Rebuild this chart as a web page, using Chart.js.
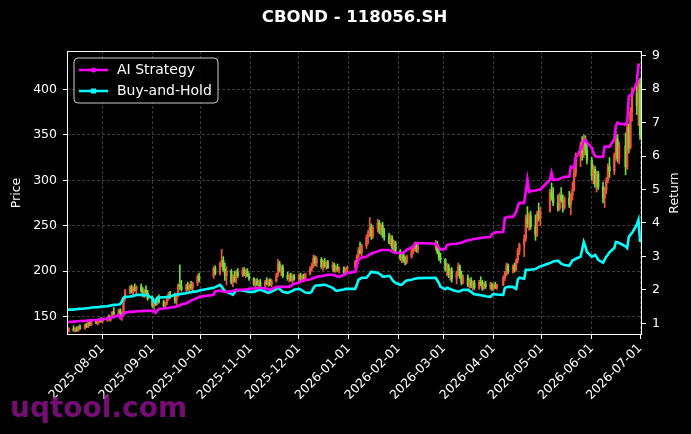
<!DOCTYPE html>
<html><head><meta charset="utf-8">
<script src="https://cdn.jsdelivr.net/npm/chart.js@4.4.0/dist/chart.umd.min.js"></script>
<style>html,body{margin:0;padding:0;background:#000;} #wrap{width:691px;height:434px;position:relative;}</style>
</head><body><div id="wrap"><canvas id="c" width="691" height="434"></canvas></div>
<script>
const chartTitle = 'CBOND - 118056.SH';
const firstDay = '2025-07-10', lastDay = '2026-07-01';
const holidays = ['2025-10-01','2025-10-02','2025-10-03','2025-10-06','2025-10-07','2025-10-08',
  '2026-01-01','2026-01-02','2026-02-16','2026-02-17','2026-02-18','2026-02-19','2026-02-20','2026-02-23',
  '2026-04-06','2026-05-01','2026-05-04','2026-05-05','2026-06-19'];
const tickLabels = ['2025-08-01','2025-09-01','2025-10-01','2025-11-01','2025-12-01','2026-01-01',
  '2026-02-01','2026-03-01','2026-04-01','2026-05-01','2026-06-01','2026-07-01'];
const priceTicks = [150,200,250,300,350,400];
const returnTicks = [1,2,3,4,5,6,7,8,9];

const opens = [
136,134, 137,135,136,135,139, 137,141,139,143,141, 145,143,145,147,145, 147,149,147,150,155,
153,157,150,152,170, 178,182,177,181,179, 183,178,174,179,176, 170,162,166,164,171, 166,162,165,170,175,
172,168,174,185,183, 180,184,181,185,182, 187,194, 195,203, 198,208,212,202,195, 200,188,194,190,199,
197,201,196,200,195, 192,186,189,185,188, 184,188,186,190,185, 189,196,208,201,204, 195,192,195,190,194,
191,195,192,194,191, 197,203,207,214,209, 213,205,210,206,209, 204,207,201,204,202, 203,199,202,
204,210,216,223,220, 228,237,242,248,239, 247,253,244,250,240, 238,232,236,226,231, 222,214,218,212,210,
216,222,226,228,224, 227,230,221,215, 213,202,206,196,200, 192,198,205,194,188, 193,185,190,184,187,
182,188,186,181,186, 183,185,181,184,182, 185,193,198,206, 200,205,202,212,222, 229,236,258,252,261,
249,240,263,258, 266,287,281, 275,269,283,278,270, 280,273,284,290,308, 326,338,330,345,333,
322,305,312,296,307, 293,280,289,300,315, 310,327,345,324, 338,315,358,336,375, 396,382,405];
const highs = [
139,138, 140,138,139,140,141, 142,143,144,145,146, 147,146,148,149,148, 150,152,151,156,160,
158,159,155,172,180, 184,185,183,186,184, 186,182,180,184,179, 173,168,170,172,174, 168,166,172,177,178,
176,175,186,207,190, 186,188,186,189,188, 196,198, 205,206, 210,224,216,209,205, 202,196,200,201,203,
204,204,202,203,198, 193,191,192,190,191, 190,193,191,192,191, 198,213,211,206,207, 199,197,198,196,197,
197,198,196,197,198, 205,209,218,217,216, 215,212,214,211,212, 210,209,206,208,205, 205,204,206,
212,218,226,232,230, 240,245,259,252,250, 257,256,252,254,247, 242,240,239,234,233, 224,220,221,216,218,
224,229,232,231,230, 234,233,226,220, 214,209,208,203,204, 200,209,207,200,196, 196,192,193,189,190,
190,194,190,188,189, 188,187,186,188,186, 195,200,209,208, 207,209,214,225,231, 240,262,271,264,266,
262,266,275,270, 290,297,292, 284,286,292,284,282, 288,286,298,312,330, 342,348,350,349,340,
325,317,315,310,310, 298,292,303,318,325, 330,353,350,342, 352,364,362,380,402, 416,410,412];
const lows = [
133,133, 134,133,134,134,136, 136,138,138,140,140, 142,141,143,144,143, 145,146,145,149,152,
150,149,146,151,168, 175,176,174,178,175, 177,172,171,175,168, 160,158,162,163,165, 160,160,163,168,170,
165,163,172,180,178, 176,179,177,180,178, 184,188, 192,196, 196,205,200,190,185, 186,183,188,187,193,
194,195,193,194,190, 184,182,184,183,183, 182,185,183,184,183, 188,194,199,195,193, 190,188,189,187,190,
188,190,189,190,189, 196,200,204,206,205, 203,201,204,202,203, 200,199,199,200,198, 197,196,199,
203,208,213,219,217, 225,230,238,235,236, 243,241,240,237,234, 230,228,224,222,220, 212,209,210,207,208,
214,219,222,221,220, 223,219,212,209, 200,195,193,190,188, 186,195,192,185,186, 183,181,182,179,180,
180,184,179,180,181, 180,179,179,181,180, 184,190,195,197, 198,199,200,209,218, 216,233,248,245,246,
234,238,255,250, 265,278,272, 266,267,276,265,268, 270,262,278,288,304, 315,322,325,328,318,
300,296,292,287,290, 275,270,285,297,303, 306,322,320,318, 306,312,330,334,365, 372,360,345];
const closes = [
134,137, 135,136,135,139,137, 141,139,143,141,145, 143,145,147,145,147, 149,147,150,155,153,
157,150,152,170,178, 182,177,181,179,183, 178,174,179,176,170, 162,166,164,171,166, 162,165,170,175,172,
168,174,185,183,180, 184,181,185,182,187, 194,190, 203,198, 208,212,202,195,200, 188,194,190,199,195,
201,196,200,195,192, 186,189,185,188,184, 188,186,190,185,189, 196,208,201,204,195, 192,195,190,194,191,
195,192,194,191,197, 203,207,214,209,213, 205,210,206,209,204, 207,201,204,202,203, 199,202,204,
210,216,223,220,228, 237,242,248,239,247, 253,244,250,240,238, 232,236,226,231,222, 214,218,212,210,216,
222,226,228,224,227, 230,221,215,213, 202,206,196,200,192, 198,205,194,188,193, 185,190,184,187,182,
188,186,181,186,183, 185,181,184,182,185, 193,198,206,200, 205,202,212,222,229, 236,258,252,261,249,
240,263,258,266, 287,281,275, 269,283,278,270,280, 273,284,290,308,326, 338,330,345,333,322,
305,312,296,307,293, 280,289,300,315,310, 327,345,324,338, 315,358,336,375,396, 382,405,350];
const aiReturn = [
1.04,1.04, 1.05,1.05,1.06,1.06,1.07, 1.07,1.08,1.08,1.09,1.09, 1.10,1.10,1.11,1.12,1.12, 1.14,1.15,1.17,1.18,1.19,
1.25,1.16,1.22,1.28,1.32, 1.34,1.34,1.35,1.35,1.36, 1.36,1.37,1.37,1.37,1.37, 1.37,1.35,1.31,1.38,1.43, 1.44,1.45,1.45,1.46,1.47,
1.49,1.50,1.52,1.54,1.56, 1.60,1.62,1.65,1.68,1.70, 1.76,1.79, 1.85,1.95, 1.98,1.96,1.95,1.94,1.94, 1.96,1.97,1.98,1.99,2.00,
2.00,2.01,2.01,2.02,2.03, 2.04,2.04,2.05,2.06,2.06, 2.04,2.03,2.01,2.00,2.02, 2.09,2.09,2.09,2.09,2.09, 2.09,2.09,2.12,2.15,2.18,
2.21,2.24,2.26,2.28,2.30, 2.31,2.33,2.35,2.37,2.39, 2.41,2.42,2.43,2.44,2.45, 2.45,2.44,2.42,2.40,2.39, 2.45,2.48,2.50,
2.54,2.70,2.90,2.93,2.97, 2.99,3.02,3.05,3.08,3.10, 3.15,3.17,3.19,3.19,3.19, 3.19,3.17,3.14,3.12,3.10, 3.10,3.10,3.12,3.15,3.20,
3.26,3.30,3.36,3.40,3.40, 3.38,3.34,3.27,3.20, 3.22,3.34,3.35,3.36,3.37, 3.38,3.39,3.40,3.41,3.43, 3.48,3.49,3.50,3.51,3.52,
3.54,3.55,3.56,3.56,3.57, 3.58,3.66,3.70,3.71,3.72, 3.73,4.15,4.16,4.18, 4.18,4.25,4.33,4.50,4.60, 4.60,4.93,5.29,4.93,4.95,
4.97,4.98,4.99,5.00, 5.29,5.50,5.29, 5.30,5.32,5.34,5.36,5.38, 5.38,5.68,5.66,5.65,5.95, 6.19,6.30,6.45,6.49,6.40,
6.25,6.10,6.00,5.98,5.98, 5.98,6.28,6.28,6.28,6.28, 6.50,6.90,7.00,6.97, 6.94,7.00,7.78,7.82,7.84, 8.19,8.73,8.73];
const bhReturn = [
1.40,1.41, 1.41,1.42,1.42,1.43,1.43, 1.44,1.45,1.45,1.46,1.47, 1.48,1.48,1.49,1.50,1.50, 1.51,1.52,1.53,1.54,1.55,
1.56,1.58,1.65,1.76,1.79, 1.80,1.81,1.82,1.83,1.85, 1.85,1.85,1.84,1.84,1.83, 1.75,1.65,1.61,1.76,1.77, 1.78,1.78,1.79,1.79,1.80,
1.85,1.86,1.86,1.87,1.88, 1.90,1.91,1.92,1.93,1.94, 1.96,1.98, 2.06,2.08, 2.15,2.10,2.02,1.96,1.94, 1.88,1.85,1.92,2.00,1.99,
1.98,1.97,1.96,1.95,1.94, 1.94,1.96,1.98,2.00,2.00, 1.95,1.93,1.91,1.93,1.95, 2.02,2.06,2.03,1.98,1.94, 1.91,1.93,1.95,1.97,2.00,
2.03,2.01,1.98,1.95,1.92, 1.91,1.95,2.05,2.12,2.13, 2.14,2.15,2.15,2.14,2.12, 2.06,2.02,1.98,1.97,1.99, 2.01,2.03,2.03,
2.03,2.15,2.30,2.33,2.36, 2.36,2.42,2.48,2.54,2.53, 2.51,2.48,2.45,2.40,2.39, 2.42,2.38,2.30,2.25,2.21, 2.15,2.16,2.20,2.25,2.28,
2.30,2.32,2.33,2.34,2.35, 2.36,2.28,2.20,2.09, 2.02,2.06,2.04,2.03,2.00, 1.96,1.95,1.96,1.98,2.00, 2.00,1.97,1.94,1.90,1.87,
1.85,1.84,1.83,1.82,1.81, 1.79,1.84,1.88,1.87,1.86, 1.85,2.06,2.08,2.09, 2.09,2.05,2.03,2.30,2.36, 2.33,2.60,2.60,2.60,2.60,
2.62,2.65,2.68,2.70, 2.80,2.82,2.85, 2.87,2.83,2.78,2.76,2.74, 2.72,2.80,2.88,2.90,2.93, 2.99,3.20,3.43,3.30,3.13,
2.99,3.01,3.04,2.98,2.90, 2.81,2.90,2.99,3.05,3.12, 3.25,3.43,3.42,3.40, 3.30,3.25,3.58,3.65,3.70, 3.95,4.09,3.43];

function dayNum(s){const [y,m,d]=s.split('-').map(Number);return Date.UTC(y,m-1,d)/86400000;}
function dayStr(n){return new Date(n*86400000).toISOString().slice(0,10);}
const tradingDays = [];
for (let n = dayNum(firstDay); n <= dayNum(lastDay); n++) {
  const wd = new Date(n*86400000).getUTCDay();
  if (wd === 0 || wd === 6) continue;
  if (holidays.includes(dayStr(n))) continue;
  tradingDays.push(n);
}
const N = Math.min(tradingDays.length, opens.length);
const UP = '#f0553a', DOWN = '#70e03a';
const candleColors = [];
const wickData = [], bodyData = [], aiData = [], bhData = [];
for (let i = 0; i < N; i++) {
  const x = tradingDays[i];
  candleColors.push(closes[i] >= opens[i] ? UP : DOWN);
  wickData.push({x, y: [lows[i], highs[i]]});
  bodyData.push({x, y: [opens[i], closes[i]]});
  aiData.push({x, y: aiReturn[i]});
  bhData.push({x, y: bhReturn[i]});
}

Chart.defaults.font.family = "'DejaVu Sans', sans-serif";
Chart.defaults.font.size = 12.5;
Chart.defaults.color = '#ffffff';

const FONT = "'DejaVu Sans', sans-serif";
const decor = {
  id: 'decor',
  beforeDraw(chart) {
    const c = chart.ctx; c.save(); c.fillStyle = '#000'; c.fillRect(0,0,chart.width,chart.height); c.restore();
  },
  afterDraw(chart) {
    const c = chart.ctx, a = chart.chartArea;
    c.save();
    c.strokeStyle = '#ffffff'; c.lineWidth = 1;
    c.strokeRect(Math.round(a.left)+0.5, Math.round(a.top)+0.5, Math.round(a.right-a.left)-1, Math.round(a.bottom-a.top)-1);
    c.fillStyle = '#fff'; c.textAlign = 'center'; c.textBaseline = 'middle';
    c.font = 'bold 16.5px ' + FONT;
    c.fillText(chartTitle, (a.left + a.right)/2, 18);
    c.font = '12.5px ' + FONT;
    c.save(); c.translate(17, (a.top+a.bottom)/2); c.rotate(-Math.PI/2); c.fillText('Price', 0, 0); c.restore();
    c.save(); c.translate(675, (a.top+a.bottom)/2); c.rotate(-Math.PI/2); c.fillText('Return', 0, 0); c.restore();
    const lx = 74, ly = 58, lw = 144, lh = 45, r = 4;
    c.beginPath();
    c.moveTo(lx+r, ly); c.lineTo(lx+lw-r, ly); c.quadraticCurveTo(lx+lw, ly, lx+lw, ly+r);
    c.lineTo(lx+lw, ly+lh-r); c.quadraticCurveTo(lx+lw, ly+lh, lx+lw-r, ly+lh);
    c.lineTo(lx+r, ly+lh); c.quadraticCurveTo(lx, ly+lh, lx, ly+lh-r);
    c.lineTo(lx, ly+r); c.quadraticCurveTo(lx, ly, lx+r, ly); c.closePath();
    c.fillStyle = 'rgba(0,0,0,0.85)'; c.fill();
    c.strokeStyle = '#cccccc'; c.lineWidth = 1; c.stroke();
    const items = [
      {label: chart.data.datasets[0].label, color: chart.data.datasets[0].borderColor, y: 70, marker: 'circle'},
      {label: chart.data.datasets[1].label, color: chart.data.datasets[1].borderColor, y: 91, marker: 'square'}
    ];
    items.forEach(it => {
      c.strokeStyle = it.color; c.lineWidth = 2.5;
      c.beginPath(); c.moveTo(79, it.y); c.lineTo(108, it.y); c.stroke();
      c.fillStyle = it.color;
      if (it.marker === 'circle') { c.beginPath(); c.arc(93.5, it.y, 2.5, 0, Math.PI*2); c.fill(); }
      else { c.fillRect(91, it.y-2.5, 5, 5); }
      c.fillStyle = '#fff'; c.textAlign = 'left'; c.textBaseline = 'middle';
      c.font = '14px ' + FONT;
      c.fillText(it.label, 117, it.y);
    });
    c.globalAlpha = 0.85;
    c.fillStyle = '#8a0f8a'; c.font = 'bold 28px ' + FONT; c.textAlign = 'left'; c.textBaseline = 'alphabetic';
    c.fillText('uqtool.com', 10, 417);
    c.restore();
  }
};

new Chart(document.getElementById('c'), {
  type: 'bar',
  data: {
    datasets: [
      {type: 'line', label: 'AI Strategy', data: aiData, yAxisID: 'y1', borderColor: '#ff00ff', borderWidth: 2.6, pointRadius: 0, tension: 0, order: 0},
      {type: 'line', label: 'Buy-and-Hold', data: bhData, yAxisID: 'y1', borderColor: '#00ffff', borderWidth: 2.6, pointRadius: 0, tension: 0, order: 1},
      {label: 'wick', data: wickData, yAxisID: 'y', backgroundColor: candleColors, barThickness: 1, grouped: false, order: 3, borderWidth: 0},
      {label: 'body', data: bodyData, yAxisID: 'y', backgroundColor: candleColors, barThickness: 1.6, grouped: false, order: 2, borderWidth: 0, minBarLength: 1}
    ]
  },
  options: {
    responsive: false, animation: false,
    layout: {padding: {top: 51, left: 0, right: 0, bottom: 0}},
    plugins: {legend: {display: false}, tooltip: {enabled: false}, title: {display: false}},
    scales: {
      x: {
        type: 'linear', min: dayNum(firstDay) - 0.1, max: dayNum(lastDay) + 1.2, offset: false,
        grid: {color: '#4a4a4a', lineWidth: 0.8, tickColor: '#ffffff', tickLength: 4, tickWidth: 1, offset: false},
        border: {display: false, dash: [3, 2]},
        ticks: {color: '#fff', autoSkip: false, maxRotation: 45, minRotation: 45, padding: 2,
          callback: (v) => dayStr(v)},
        afterBuildTicks: (s) => { s.ticks = tickLabels.map(t => ({value: dayNum(t)})); },
        afterFit: (s) => { s.height = 99; }
      },
      y: {
        position: 'left', min: 129.9, max: 442.1,
        grid: {color: '#4a4a4a', lineWidth: 0.8, tickColor: '#ffffff', tickLength: 4, tickWidth: 1},
        border: {display: false, dash: [3, 2]},
        ticks: {color: '#fff', padding: 6},
        afterBuildTicks: (s) => { s.ticks = priceTicks.map(v => ({value: v})); },
        afterFit: (s) => { s.width = 67; }
      },
      y1: {
        position: 'right', min: 0.65, max: 9.14,
        grid: {drawOnChartArea: false, color: '#ffffff', tickColor: '#ffffff', tickLength: 4, tickWidth: 1},
        border: {display: false},
        ticks: {color: '#fff', padding: 6},
        afterBuildTicks: (s) => { s.ticks = returnTicks.map(v => ({value: v})); },
        afterFit: (s) => { s.width = 49; }
      }
    }
  },
  plugins: [decor]
});
</script></body></html>
